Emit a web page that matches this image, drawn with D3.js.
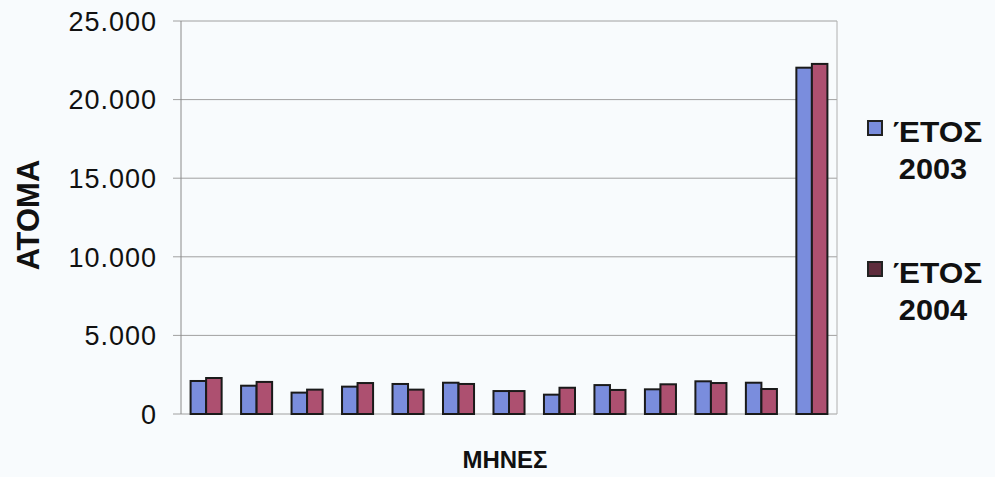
<!DOCTYPE html>
<html>
    <head>
        <meta charset="utf-8">
        <title>ΑΤΟΜΑ ανά μήνα</title>
        <script src="https://d3js.org/d3.v7.min.js"></script>
        <style>
            body {
                margin: 0;
                background: #f8fbfd;
            }
            text {
                font-family: 'Liberation Sans', Arial, sans-serif;
                fill: #111;
            }
            .grid line {
                stroke: #a0a0a0;
                stroke-width: 1px;
            }
            .bar {
                stroke: #1a1a1a;
                stroke-width: 2px;
            }
        </style>
    </head>
    <body>
        <div id="chart"></div>
        <script>
            const months = ['ΙΑΝ', 'ΦΕΒ', 'ΜΑΡ', 'ΑΠΡ', 'ΜΑΪ', 'ΙΟΥΝ', 'ΙΟΥΛ', 'ΑΥΓ', 'ΣΕΠ', 'ΟΚΤ', 'ΝΟΕ', 'ΔΕΚ', 'ΣΥΝΟΛΟ'];
            const seriesNames = ['ΈΤΟΣ 2003', 'ΈΤΟΣ 2004'];
            const values2003 = [2100, 1800, 1360, 1740, 1910, 1990, 1460, 1230, 1840, 1570, 2080, 1990, 22030];
            const values2004 = [2290, 2040, 1550, 1970, 1550, 1910, 1460, 1670, 1530, 1890, 1970, 1590, 22270];
            const yTicks = [0, 5000, 10000, 15000, 20000, 25000];
            const colors = ['#7a8ddd', '#ad5070'];

            const svgWidth = 995,
                svgHeight = 477;
            const margin = { top: 21, right: 158, bottom: 63, left: 181 };
            const width = svgWidth - margin.left - margin.right;
            const height = svgHeight - margin.top - margin.bottom;

            const data = months.map((m, i) => ({ month: m, vals: [values2003[i], values2004[i]] }));

            const svg = d3
                .select('#chart')
                .append('svg')
                .attr('width', svgWidth)
                .attr('height', svgHeight);
            const g = svg.append('g').attr('transform', 'translate(' + margin.left + ',' + margin.top + ')');

            const x0 = d3.scaleBand().domain(months).range([0, width]).paddingInner(0.385).paddingOuter(0.19);
            const x1 = d3.scaleBand().domain([0, 1]).range([0, x0.bandwidth()]);
            const y = d3.scaleLinear().domain([0, 25000]).range([height, 0]);

            // gridlines
            g.append('g')
                .attr('class', 'grid')
                .selectAll('line')
                .data(yTicks)
                .enter()
                .append('line')
                .attr('x1', -8)
                .attr('x2', width)
                .attr('y1', (d) => y(d))
                .attr('y2', (d) => y(d));

            // plot frame left/right
            g.append('line').attr('x1', 0).attr('x2', 0).attr('y1', 0).attr('y2', height).attr('stroke', '#8a8a8a');
            g.append('line').attr('x1', width).attr('x2', width).attr('y1', 0).attr('y2', height).attr('stroke', '#b0b0b0');

            // y axis labels
            const fmt = (d) => d3.format(',')(d).replace(/,/g, '.');
            g.append('g')
                .selectAll('text')
                .data(yTicks)
                .enter()
                .append('text')
                .attr('x', -24)
                .attr('y', (d) => y(d))
                .attr('dy', '0.36em')
                .attr('text-anchor', 'end')
                .style('font-size', '27px')
                .style('letter-spacing', '1px')
                .text(fmt);

            // bars
            const groups = g
                .selectAll('.group')
                .data(data)
                .enter()
                .append('g')
                .attr('class', 'group')
                .attr('transform', (d) => 'translate(' + x0(d.month) + ',0)');
            groups
                .selectAll('rect')
                .data((d) => d.vals)
                .enter()
                .append('rect')
                .attr('class', 'bar')
                .attr('x', (d, i) => x1(i))
                .attr('width', x1.bandwidth())
                .attr('y', (d) => y(d))
                .attr('height', (d) => height - y(d))
                .attr('fill', (d, i) => colors[i]);

            // axis titles
            svg.append('text')
                .attr('transform', 'translate(39,215) rotate(-90)')
                .attr('text-anchor', 'middle')
                .style('font-size', '31px')
                .style('font-weight', 'bold')
                .text('ΑΤΟΜΑ');
            svg.append('text')
                .attr('x', 505)
                .attr('y', 468)
                .attr('text-anchor', 'middle')
                .style('font-size', '24px')
                .style('font-weight', 'bold')
                .text('ΜΗΝΕΣ');

            // legend
            const legendY = [121, 262];
            const swatchFill = ['#7a8ddd', '#5e2c3c'];
            seriesNames.forEach(function (name, i) {
                const parts = name.split(' ');
                const lg = svg.append('g').attr('transform', 'translate(868,' + legendY[i] + ')');
                lg.append('rect')
                    .attr('width', 14)
                    .attr('height', 14)
                    .attr('fill', swatchFill[i])
                    .attr('stroke', '#222')
                    .attr('stroke-width', 2);
                lg.append('text')
                    .attr('transform', 'translate(25,21) scale(1.09,1)')
                    .style('font-size', '29px')
                    .style('font-weight', 'bold')
                    .text(parts[0]);
                lg.append('text')
                    .attr('transform', 'translate(65,58) scale(1.06,1)')
                    .attr('text-anchor', 'middle')
                    .style('font-size', '29px')
                    .style('font-weight', 'bold')
                    .text(parts[1]);
            });
        </script>
    </body>
</html>
